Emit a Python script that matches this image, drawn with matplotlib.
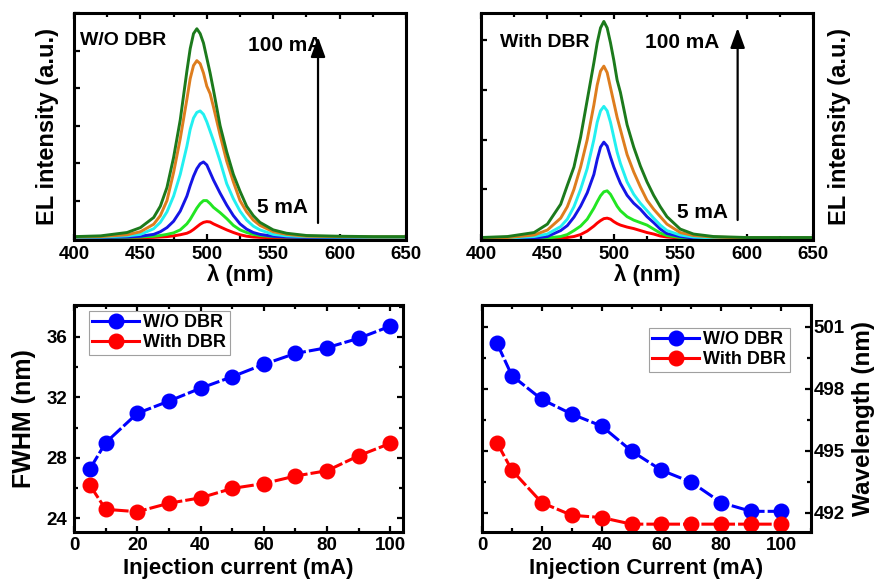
import matplotlib
matplotlib.use("Agg")
import matplotlib.pyplot as plt
from matplotlib.ticker import MultipleLocator

plt.rcParams['font.family'] = ['Liberation Sans', 'DejaVu Sans']
plt.rcParams['font.weight'] = 'bold'

# ---------------- data ----------------
wavelength = [400, 420, 440, 450, 460, 465, 470, 475, 480, 485, 487.5, 490, 492.5, 495,
              497.5, 500, 502.5, 505, 510, 515, 520, 525, 530, 535, 540, 550, 560, 575,
              600, 625, 650]

# W/O DBR spectra (a.u.), 5 mA ... 100 mA
wo_red = [.01, .01, .01, .01, .02, .03, .04, .06, .09, .13, .17, .23, .30, .37, .42, .44, .43, .38,
          .30, .22, .15, .09, .05, .03, .02, .01, .01, .01, .01, .01, .01]
wo_lgreen = [.01, .01, .02, .03, .05, .07, .10, .14, .22, .38, .50, .65, .80, .92, 1.0, 1.0, .92, .82,
             .68, .52, .34, .22, .15, .10, .07, .04, .03, .02, .01, .01, .01]
wo_blue = [.01, .02, .03, .05, .10, .17, .28, .45, .72, 1.12, 1.40, 1.65, 1.85, 1.98, 2.03, 1.95, 1.75,
           1.55, 1.20, .88, .60, .38, .24, .15, .10, .05, .03, .02, .02, .01, .01]
wo_cyan = [.02, .03, .06, .10, .25, .42, .70, 1.12, 1.70, 2.45, 2.90, 3.20, 3.35, 3.39, 3.30, 3.10,
           2.85, 2.60, 2.05, 1.45, 1.05, .72, .48, .32, .22, .10, .06, .04, .03, .02, .02]
wo_orange = [.03, .04, .09, .17, .37, .60, 1.0, 1.75, 2.65, 3.70, 4.25, 4.60, 4.73, 4.65, 4.40, 4.05,
             3.85, 3.50, 2.75, 2.05, 1.50, 1.0, .70, .48, .34, .17, .10, .05, .04, .03, .03]
wo_dgreen = [.04, .06, .15, .28, .55, .85, 1.35, 2.15, 3.15, 4.45, 5.05, 5.45, 5.58, 5.45, 5.20, 4.80,
             4.40, 3.95, 3.0, 2.30, 1.70, 1.25, .85, .60, .42, .22, .13, .07, .05, .04, .04]

# With DBR spectra (a.u.)
w_red = [.01, .01, .01, .01, .02, .03, .05, .09, .16, .26, .32, .37, .41, .42, .40, .35, .31, .28,
         .24, .21, .17, .13, .10, .06, .04, .02, .01, .01, .01, .01, .01]
w_lgreen = [.01, .01, .01, .02, .05, .09, .17, .26, .40, .62, .75, .87, .95, .97, .90, .78, .66, .57,
            .45, .38, .33, .28, .20, .12, .07, .03, .02, .01, .01, .01, .01]
w_blue = [.01, .01, .02, .05, .17, .27, .44, .66, .93, 1.30, 1.60, 1.85, 1.95, 1.87, 1.65, 1.45, 1.28,
          1.12, .88, .72, .60, .45, .33, .20, .11, .05, .02, .01, .01, .01, .01]
w_cyan = [.01, .02, .05, .10, .25, .40, .65, 1.0, 1.42, 2.0, 2.35, 2.58, 2.67, 2.58, 2.35, 2.05, 1.75,
          1.52, 1.15, .90, .72, .57, .42, .28, .17, .08, .04, .02, .01, .01, .01]
w_orange = [.02, .03, .08, .18, .42, .65, 1.0, 1.45, 2.0, 2.70, 3.10, 3.38, 3.48, 3.35, 3.05, 2.75,
            2.45, 2.20, 1.70, 1.35, 1.05, .78, .60, .45, .30, .13, .07, .04, .02, .02, .02]
w_dgreen = [.03, .05, .13, .30, .70, 1.08, 1.45, 2.05, 2.80, 3.55, 3.95, 4.25, 4.38, 4.25, 3.95, 3.60,
            3.20, 2.95, 2.30, 1.85, 1.47, 1.15, .88, .65, .45, .20, .10, .05, .03, .03, .03]

current = [5, 10, 20, 30, 40, 50, 60, 70, 80, 90, 100]
fwhm_wo = [27.26, 29.0, 30.94, 31.75, 32.6, 33.36, 34.18, 34.9, 35.28, 35.9, 36.7]
fwhm_w = [26.2, 24.6, 24.44, 25.0, 25.36, 25.98, 26.3, 26.8, 27.15, 28.14, 28.96]
peak_wo = [500.2, 498.63, 497.48, 496.77, 496.19, 494.98, 494.05, 493.47, 492.48, 492.06, 492.06]
peak_w = [495.38, 494.05, 492.48, 491.87, 491.76, 491.44, 491.44, 491.44, 491.44, 491.44, 491.44]

spec_colors = ['#FF0000', '#22E622', '#1515E6', '#22F0F0', '#DE7D1E', '#1C7A1C']

# ---------------- figure ----------------
fig = plt.figure(figsize=(8.77, 5.86), dpi=100)
W, H = 877, 586

def add_ax(x0, y0, x1, y1):
    return fig.add_axes([x0 / W, 1 - y1 / H, (x1 - x0) / W, (y1 - y0) / H])

ax_tl = add_ax(74, 13, 406, 240)
ax_tr = add_ax(481, 13, 813, 240)
ax_bl = add_ax(74, 305, 403, 532)
ax_br = add_ax(482, 305, 811, 532)

SPINE = 2.2
for ax in (ax_tl, ax_tr, ax_bl, ax_br):
    for s in ax.spines.values():
        s.set_linewidth(SPINE)
    ax.tick_params(which='both', direction='in', width=1.6, labelsize=13.5)
    ax.tick_params(which='major', length=4)
    ax.tick_params(which='minor', length=3)

def spectra(ax, series):
    for ys, c in zip(series, spec_colors):
        ax.plot(wavelength, ys, color=c, lw=2.1, solid_joinstyle='round')
    ax.set_xlim(400, 650)
    ax.xaxis.set_major_locator(MultipleLocator(50))
    ax.xaxis.set_minor_locator(MultipleLocator(25))
    ax.tick_params(axis='x', which='both', top=True, bottom=True, pad=4)
    ax.tick_params(axis='y', which='both', left=True, right=False, labelleft=False)
    ax.yaxis.set_major_locator(MultipleLocator(1))
    ax.set_xlabel('λ (nm)', fontsize=16, fontweight='bold', labelpad=1)

spectra(ax_tl, [wo_red, wo_lgreen, wo_blue, wo_cyan, wo_orange, wo_dgreen])
ax_tl.set_ylim(-0.05, 6.0)
ax_tl.set_ylabel('EL intensity (a.u.)', fontsize=17, fontweight='bold', labelpad=11)

spectra(ax_tr, [w_red, w_lgreen, w_blue, w_cyan, w_orange, w_dgreen])
ax_tr.set_ylim(-0.02, 4.55)
ax_tr.yaxis.set_label_position('right')
ax_tr.set_ylabel('EL intensity (a.u.)', fontsize=17, fontweight='bold', labelpad=11)

def annotate(ax, title, tx, ty, hx, hy, lx, ly, ax_x, y0, y1):
    ax.text(tx, ty, title, transform=ax.transAxes, fontsize=14, fontweight='bold', va='center')
    ax.text(hx, hy, '100 mA', transform=ax.transAxes, fontsize=15, fontweight='bold', va='center')
    ax.text(lx, ly, '5 mA', transform=ax.transAxes, fontsize=15, fontweight='bold', va='center')
    ax.annotate('', xy=(ax_x, y1), xytext=(ax_x, y0), xycoords='axes fraction',
                arrowprops=dict(arrowstyle='-|>,head_length=0.6,head_width=0.22', color='black',
                                lw=1.6, mutation_scale=20, shrinkA=0, shrinkB=0), zorder=5)

annotate(ax_tl, 'W/O DBR', 0.018, 0.881, 0.524, 0.855, 0.551, 0.141, 0.735, 0.075, 0.894)
annotate(ax_tr, 'With DBR', 0.057, 0.872, 0.494, 0.868, 0.590, 0.123, 0.773, 0.088, 0.934)

DASH = (0, (5, 1.0))

def trend(ax, y1, y2):
    ax.plot(current, y1, color='#0000FF', lw=2.2, ls=DASH, marker='o', ms=10.5,
            mfc='#0000FF', mec='#0000FF', label='W/O DBR')
    ax.plot(current, y2, color='#FF0000', lw=2.2, ls=DASH, marker='o', ms=10.5,
            mfc='#FF0000', mec='#FF0000', label='With DBR')
    ax.xaxis.set_major_locator(MultipleLocator(20))
    ax.xaxis.set_minor_locator(MultipleLocator(10))
    ax.tick_params(axis='both', which='both', top=True, bottom=True, left=True, right=True)

trend(ax_bl, fwhm_wo, fwhm_w)
ax_bl.set_xlim(0, 104)
ax_bl.set_ylim(23.1, 38.1)
ax_bl.yaxis.set_major_locator(MultipleLocator(4))
ax_bl.yaxis.set_minor_locator(MultipleLocator(2))
ax_bl.tick_params(axis='y', pad=5)
ax_bl.set_xlabel('Injection current (mA)', fontsize=16, fontweight='bold', labelpad=3)
ax_bl.set_ylabel('FWHM (nm)', fontsize=18, fontweight='bold', labelpad=7)

trend(ax_br, peak_wo, peak_w)
ax_br.set_xlim(0, 110)
ax_br.set_ylim(491.06, 502.05)
ax_br.yaxis.set_major_locator(MultipleLocator(3))
ax_br.yaxis.set_minor_locator(MultipleLocator(1.5))
ax_br.tick_params(axis='y', which='both', labelleft=False, labelright=True, pad=2)
ax_br.yaxis.set_label_position('right')
ax_br.set_xlabel('Injection Current (mA)', fontsize=16, fontweight='bold', labelpad=3)
ax_br.set_ylabel('Wavelength (nm)', fontsize=17.5, fontweight='bold', labelpad=5)

for ax, loc, anchor in ((ax_bl, 'upper left', (0.045, 0.975)), (ax_br, 'upper right', (0.935, 0.9))):
    leg = ax.legend(loc=loc, bbox_to_anchor=anchor, fontsize=13, frameon=True, fancybox=False,
                    handlelength=2.6, handletextpad=0.2, borderpad=0.2, labelspacing=0.15,
                    borderaxespad=0.0)
    leg.get_frame().set_edgecolor('#888888')
    leg.get_frame().set_linewidth(0.8)
    for t in leg.get_texts():
        t.set_fontweight('bold')
    for h in leg.legend_handles:
        h.set_linestyle('-')

for ax in (ax_tl, ax_tr, ax_bl, ax_br):
    for lab in ax.get_xticklabels() + ax.get_yticklabels():
        lab.set_fontweight('bold')

fig.savefig('out.png', dpi=100)
